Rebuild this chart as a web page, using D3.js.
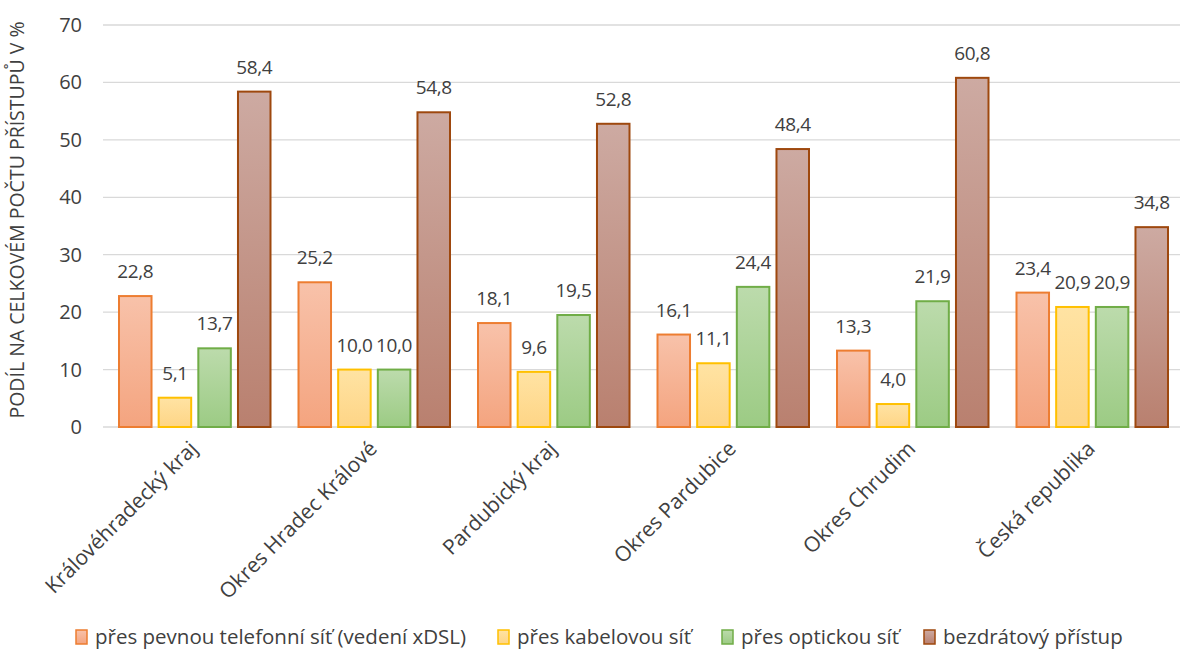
<!DOCTYPE html>
<html>
<head>
<meta charset="utf-8">
<script src="https://cdn.jsdelivr.net/npm/d3@7"></script>
<style>
  body { margin: 0; background: #fff; }
  svg { font-family: "Open Sans", "Noto Sans", sans-serif; }
</style>
</head>
<body>
<svg width="1184" height="652"></svg>
<script>
var categories = ["Královéhradecký kraj", "Okres Hradec Králové", "Pardubický kraj", "Okres Pardubice", "Okres Chrudim", "Česká republika"];
var seriesNames = ["přes pevnou telefonní síť (vedení xDSL)", "přes kabelovou síť", "přes optickou síť", "bezdrátový přístup"];
var xdsl = [22.8, 25.2, 18.1, 16.1, 13.3, 23.4];
var cable = [5.1, 10.0, 9.6, 11.1, 4.0, 20.9];
var optic = [13.7, 10.0, 19.5, 24.4, 21.9, 20.9];
var wireless = [58.4, 54.8, 52.8, 48.4, 60.8, 34.8];
var yTicks = [0, 10, 20, 30, 40, 50, 60, 70];

var colors = [
  {top: "#f8c2aa", bottom: "#f4a47f", stroke: "#ed7d31"},
  {top: "#ffe3a3", bottom: "#fed586", stroke: "#ffc000"},
  {top: "#bcdbac", bottom: "#9ccb84", stroke: "#70ad47"},
  {top: "#cdaaa2", bottom: "#b9806f", stroke: "#9e480e"}
];

var series = [xdsl, cable, optic, wireless];

var margin = {top: 25, right: 4, bottom: 225, left: 103},
    width = 1184 - margin.left - margin.right,
    height = 652 - margin.top - margin.bottom;

var svg = d3.select("svg");
var defs = svg.append("defs");
colors.forEach(function(c, i) {
  var g = defs.append("linearGradient")
    .attr("id", "grad" + i)
    .attr("x1", 0).attr("y1", 0).attr("x2", 0).attr("y2", 1);
  g.append("stop").attr("offset", "0%").attr("stop-color", c.top);
  g.append("stop").attr("offset", "100%").attr("stop-color", c.bottom);
});

var g = svg.append("g")
  .attr("transform", "translate(" + margin.left + "," + margin.top + ")");

var x0 = d3.scaleBand()
  .domain(categories)
  .range([0, width]);

var x1 = d3.scaleBand()
  .domain(d3.range(4))
  .range([16, x0.bandwidth() - 12])
  .paddingInner(0.18);

var y = d3.scaleLinear()
  .domain([0, 70])
  .range([height, 0]);

// gridlines
g.append("g")
  .selectAll("line")
  .data(yTicks)
  .enter().append("line")
    .attr("x1", 0)
    .attr("x2", width)
    .attr("y1", d => y(d))
    .attr("y2", d => y(d))
    .attr("stroke", "#d9d9d9")
    .attr("stroke-width", 1.3);

// y tick labels
g.append("g")
  .selectAll("text")
  .data(yTicks)
  .enter().append("text")
    .attr("x", -21)
    .attr("y", d => y(d))
    .attr("dy", "0.35em")
    .attr("text-anchor", "end")
    .attr("font-size", 20)
    .attr("fill", "#404040")
    .text(d => d);

// y title
svg.append("text")
  .attr("transform", "translate(24," + (margin.top + height / 2 - 6) + ") rotate(-90)")
  .attr("text-anchor", "middle")
  .attr("font-size", 19.5)
  .attr("fill", "#404040")
  .text("PODÍL NA CELKOVÉM POČTU PŘÍSTUPŮ V %");

// bars
var groups = g.selectAll(".grp")
  .data(categories)
  .enter().append("g")
    .attr("class", "grp")
    .attr("transform", d => "translate(" + x0(d) + ",0)");

groups.each(function(cat, ci) {
  var sel = d3.select(this);
  series.forEach(function(s, si) {
    var v = s[ci];
    sel.append("rect")
      .attr("x", x1(si))
      .attr("y", y(v))
      .attr("width", x1.bandwidth())
      .attr("height", y(0) - y(v))
      .attr("fill", "url(#grad" + si + ")")
      .attr("stroke", colors[si].stroke)
      .attr("stroke-width", 2);
    sel.append("text")
      .attr("x", x1(si) + x1.bandwidth() / 2)
      .attr("y", y(v) - 18)
      .attr("text-anchor", "middle")
      .attr("font-size", 19)
      .attr("letter-spacing", -0.4)
      .attr("fill", "#404040")
      .text(d3.format(".1f")(v).replace(".", ","));
  });
});

// x labels
g.append("g")
  .selectAll("text")
  .data(categories)
  .enter().append("text")
    .attr("transform", d => "translate(" + (x0(d) + x0.bandwidth() / 2 + 6) + "," + (height + 23) + ") rotate(-45)")
    .attr("text-anchor", "end")
    .attr("font-size", 21)
    .attr("fill", "#404040")
    .text(d => d);

// legend
var legend = svg.append("g").attr("transform", "translate(0,637)");
var lx = [76, 498, 722, 924];
seriesNames.forEach(function(n, i) {
  var item = legend.append("g").attr("transform", "translate(" + lx[i] + ",0)");
  item.append("rect")
    .attr("x", 0).attr("y", -7)
    .attr("width", 11).attr("height", 14)
    .attr("fill", "url(#grad" + i + ")")
    .attr("stroke", colors[i].stroke)
    .attr("stroke-width", 1.5);
  item.append("text")
    .attr("x", 19)
    .attr("dy", "0.35em")
    .attr("font-size", 20.5)
    .attr("fill", "#404040")
    .text(n);
});
</script>
</body>
</html>
